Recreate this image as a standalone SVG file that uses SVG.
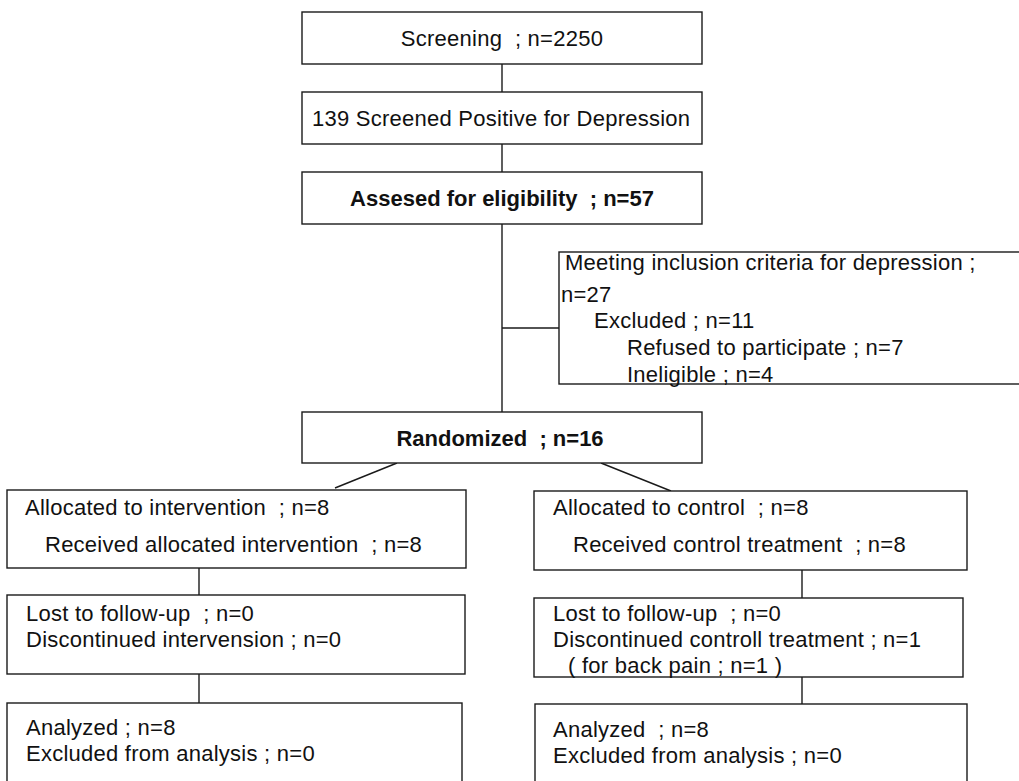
<svg xmlns="http://www.w3.org/2000/svg" width="1019" height="781" viewBox="0 0 1019 781" xml:space="preserve">
<style>
.box{fill:#fff;stroke:#1a1a1a;stroke-width:1.4}
.t{font-family:"Liberation Sans",Arial,sans-serif;font-size:22px;fill:#111;white-space:pre;letter-spacing:0.25px}
.c{text-anchor:middle}
.b{font-weight:bold;letter-spacing:0}
.ln{stroke:#1a1a1a;stroke-width:1.4;fill:none}
</style>
<rect width="1019" height="781" fill="#fff"/>
<g id="connectors">
<line class="ln" x1="502" y1="64" x2="502" y2="92"/>
<line class="ln" x1="502" y1="144" x2="502" y2="172"/>
<line class="ln" x1="502" y1="224" x2="502" y2="412"/>
<line class="ln" x1="502" y1="328" x2="559" y2="328"/>
<line class="ln" x1="397" y1="463" x2="335" y2="488"/>
<line class="ln" x1="601" y1="463" x2="671" y2="491"/>
<line class="ln" x1="199" y1="568" x2="199" y2="595"/>
<line class="ln" x1="802" y1="570" x2="802" y2="598"/>
<line class="ln" x1="199" y1="674" x2="199" y2="703"/>
<line class="ln" x1="802" y1="677" x2="802" y2="704"/>
</g>
<g id="screening">
<rect class="box" x="302" y="12" width="400" height="52"/>
<text class="t c" x="502" y="46">Screening  ; n=2250</text>
</g>
<g id="positive">
<rect class="box" x="302" y="92" width="400" height="52"/>
<text class="t" x="312" y="126">139 Screened Positive for Depression</text>
</g>
<g id="assessed">
<rect class="box" x="302" y="172" width="400" height="52"/>
<text class="t c b" x="502" y="206">Assesed for eligibility  ; n=57</text>
</g>
<g id="excluded">
<rect class="box" x="559" y="252" width="470" height="132"/>
<text class="t" x="565" y="270">Meeting inclusion criteria for depression ;</text>
<text class="t" x="561" y="302">n=27</text>
<text class="t" x="594" y="328">Excluded ; n=11</text>
<text class="t" x="627" y="355">Refused to participate ; n=7</text>
<text class="t" x="627" y="382">Ineligible ; n=4</text>
</g>
<g id="randomized">
<rect class="box" x="302" y="412" width="400" height="51"/>
<text class="t c b" x="500" y="446">Randomized  ; n=16</text>
</g>
<g id="alloc-int">
<rect class="box" x="7" y="490" width="459" height="78"/>
<text class="t" x="25" y="515">Allocated to intervention  ; n=8</text>
<text class="t" x="45" y="552">Received allocated intervention  ; n=8</text>
</g>
<g id="alloc-ctl">
<rect class="box" x="534" y="491" width="433" height="79"/>
<text class="t" x="553" y="515">Allocated to control  ; n=8</text>
<text class="t" x="573" y="552">Received control treatment  ; n=8</text>
</g>
<g id="lost-int">
<rect class="box" x="7" y="595" width="458" height="79"/>
<text class="t" x="26" y="621">Lost to follow-up  ; n=0</text>
<text class="t" x="26" y="647">Discontinued intervension ; n=0</text>
</g>
<g id="lost-ctl">
<rect class="box" x="534" y="598" width="429" height="79"/>
<text class="t" x="553" y="621">Lost to follow-up  ; n=0</text>
<text class="t" x="553" y="647">Discontinued controll treatment ; n=1</text>
<text class="t" x="568" y="673">( for back pain ; n=1 )</text>
</g>
<g id="analyzed-int">
<rect class="box" x="7" y="703" width="455" height="90"/>
<text class="t" x="26" y="735">Analyzed ; n=8</text>
<text class="t" x="26" y="761">Excluded from analysis ; n=0</text>
</g>
<g id="analyzed-ctl">
<rect class="box" x="535" y="704" width="432" height="90"/>
<text class="t" x="553" y="737">Analyzed  ; n=8</text>
<text class="t" x="553" y="763">Excluded from analysis ; n=0</text>
</g>
</svg>
